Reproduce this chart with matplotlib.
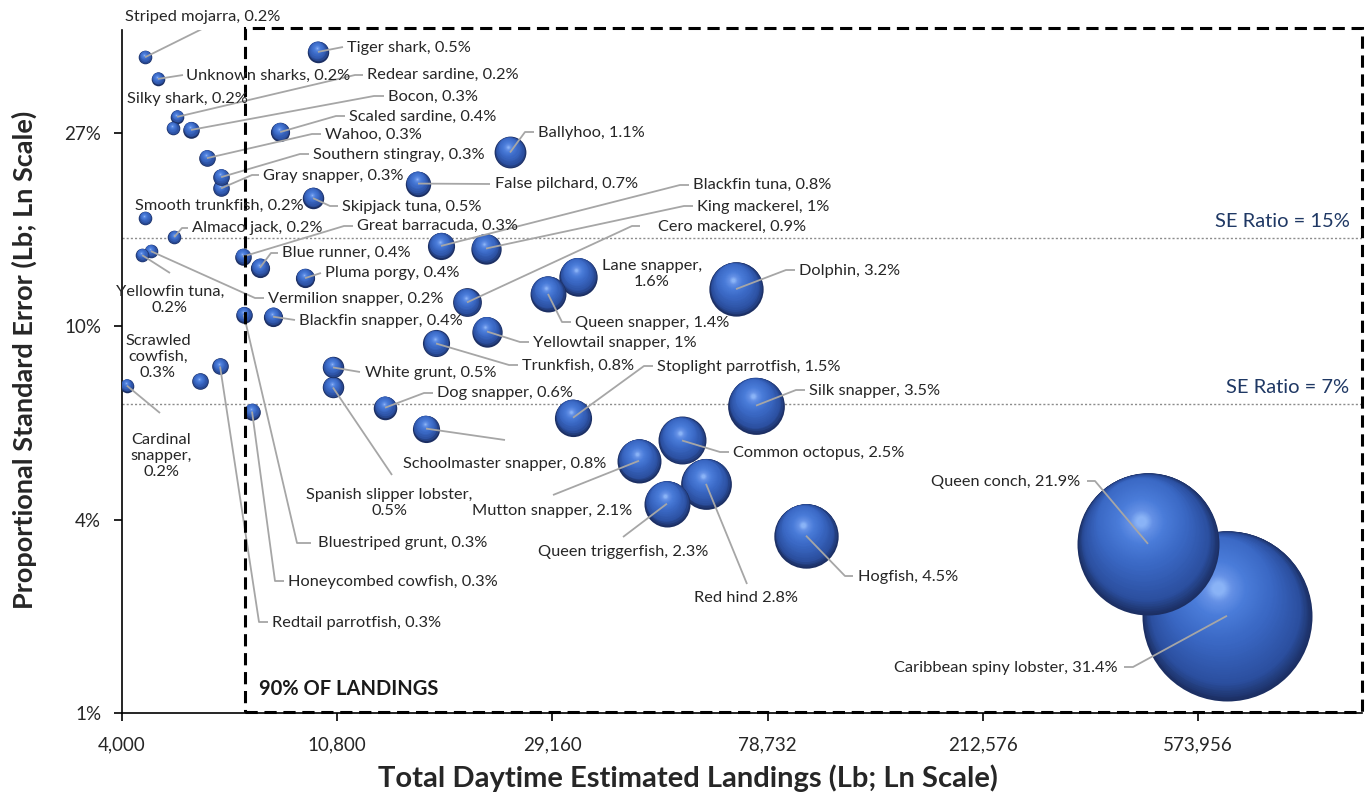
import numpy as np
import matplotlib
matplotlib.use("Agg")
import matplotlib.pyplot as plt
from matplotlib.transforms import ScaledTranslation
from matplotlib.colors import LinearSegmentedColormap
from matplotlib.patches import Rectangle

# ---------------------------------------------------------------- data
species = [
    "Striped mojarra", "Unknown sharks", "Tiger shark", "Silky shark", "Redear sardine",
    "Bocon", "Scaled sardine", "Wahoo", "Southern stingray", "Gray snapper",
    "Ballyhoo", "False pilchard", "Skipjack tuna", "Smooth trunkfish", "Almaco jack",
    "Great barracuda", "Blackfin tuna", "King mackerel", "Blue runner", "Yellowfin tuna",
    "Vermilion snapper", "Pluma porgy", "Cero mackerel", "Lane snapper", "Queen snapper",
    "Dolphin", "Blackfin snapper", "Bluestriped grunt", "Yellowtail snapper", "Trunkfish",
    "White grunt", "Spanish slipper lobster", "Redtail parrotfish", "Scrawled cowfish",
    "Cardinal snapper", "Honeycombed cowfish", "Dog snapper", "Stoplight parrotfish",
    "Silk snapper", "Schoolmaster snapper", "Common octopus", "Mutton snapper", "Red hind",
    "Queen triggerfish", "Hogfish", "Queen conch", "Caribbean spiny lobster",
]

# share of total landings (%)
share = [
    0.2, 0.2, 0.5, 0.2, 0.2,
    0.3, 0.4, 0.3, 0.3, 0.3,
    1.1, 0.7, 0.5, 0.2, 0.2,
    0.3, 0.8, 1.0, 0.4, 0.2,
    0.2, 0.4, 0.9, 1.6, 1.4,
    3.2, 0.4, 0.3, 1.0, 0.8,
    0.5, 0.5, 0.3, 0.3,
    0.2, 0.3, 0.6, 1.5,
    3.5, 0.8, 2.5, 2.1, 2.8,
    2.3, 4.5, 21.9, 31.4,
]

# total daytime estimated landings (lb)
landings = [
    4450, 4720, 9880, 5060, 5160,
    5500, 8300, 5920, 6320, 6320,
    23980, 15680, 9660, 4450, 5090,
    6990, 17440, 21460, 7560, 4390,
    4570, 9310, 19660, 32820, 28570,
    68060, 8030, 7020, 21560, 17040,
    10590, 10590, 6290, 5730,
    4090, 7290, 13470, 32070,
    74630, 16270, 53030, 43490, 59250,
    49480, 94000, 455700, 656200,
]

# proportional standard error
pse = [
    0.398, 0.356, 0.409, 0.276, 0.293,
    0.274, 0.271, 0.237, 0.215, 0.203,
    0.244, 0.208, 0.193, 0.174, 0.158,
    0.143, 0.151, 0.149, 0.135, 0.144,
    0.147, 0.128, 0.113, 0.129, 0.118,
    0.121, 0.105, 0.106, 0.0973, 0.0915,
    0.0809, 0.0730, 0.0813, 0.0753,
    0.0737, 0.0645, 0.0658, 0.0625,
    0.0665, 0.0591, 0.0556, 0.0501, 0.0445,
    0.0402, 0.0341, 0.0327, 0.0226,
]

x_ticks = [4000, 10800, 29160, 78732, 212576, 573956]
x_tick_labels = ["4,000", "10,800", "29,160", "78,732", "212,576", "573,956"]
y_ticks = [0.1 / 2.7 ** 2, 0.1 / 2.7, 0.1, 0.27]
y_tick_labels = ["1%", "4%", "10%", "27%"]

se_ratio_levels = [0.157, 0.067]
se_ratio_labels = ["SE Ratio = 15%", "SE Ratio = 7%"]
landings_90pct = 7057

# ------------------------------------------------------------- layout
W, H, DPI = 1366, 794, 100
FONT = "Lato"
LABEL_COLOR = "#262626"
LEADER_COLOR = "#a6a6a6"

# label placement (pixel position, alignment, text template, leader start points)
label_layout = {
    "Striped mojarra":         (125, 17, "left", "{n}, {v}", [(210, 25)]),
    "Unknown sharks":          (186, 76, "left", "{n}, {v}", [(183, 75)]),
    "Tiger shark":             (347, 48, "left", "{n}, {v}", [(343, 47)]),
    "Silky shark":             (127, 99, "left", "{n}, {v}", []),
    "Redear sardine":          (367, 75, "left", "{n}, {v}", [(363, 75), (355, 75)]),
    "Bocon":                   (388, 97, "left", "{n}, {v}", [(384, 96), (374, 96)]),
    "Scaled sardine":          (349, 117, "left", "{n}, {v}", [(345, 116), (336, 116)]),
    "Wahoo":                   (325, 135, "left", "{n}, {v}", [(321, 134), (312, 134)]),
    "Southern stingray":       (313, 155, "left", "{n}, {v}", [(309, 154), (300, 154)]),
    "Gray snapper":            (263, 176, "left", "{n}, {v}", [(259, 175), (252, 175)]),
    "Ballyhoo":                (538, 133, "left", "{n}, {v}", [(534, 132), (525, 132)]),
    "False pilchard":          (495, 184, "left", "{n}, {v}", [(490, 184)]),
    "Skipjack tuna":           (342, 207, "left", "{n}, {v}", [(338, 206), (330, 206)]),
    "Smooth trunkfish":        (135, 206, "left", "{n}, {v}", []),
    "Almaco jack":             (192, 228, "left", "{n}, {v}", [(188, 228), (182, 228)]),
    "Great barracuda":         (357, 226, "left", "{n}, {v}", [(353, 226), (344, 226)]),
    "Blackfin tuna":           (693, 185, "left", "{n}, {v}", [(689, 185), (680, 185)]),
    "King mackerel":           (697, 207, "left", "{n}, {v}", [(693, 206), (684, 206)]),
    "Cero mackerel":           (658, 227, "left", "{n}, {v}", [(640, 226), (632, 226)]),
    "Blue runner":             (282, 253, "left", "{n}, {v}", [(278, 253), (271, 253)]),
    "Pluma porgy":             (325, 273, "left", "{n}, {v}", [(321, 273)]),
    "Yellowfin tuna":          (170, 300, "center", "{n},\n{v}", [(170, 273)]),
    "Vermilion snapper":       (268, 299, "left", "{n}, {v}", [(264, 298), (255, 298)]),
    "Lane snapper":            (652, 274, "center", "{n},\n{v}", []),
    "Dolphin":                 (799, 271, "left", "{n}, {v}", [(795, 270), (786, 270)]),
    "Queen snapper":           (575, 323, "left", "{n}, {v}", [(571, 322), (562, 322)]),
    "Blackfin snapper":        (299, 321, "left", "{n}, {v}", [(295, 320)]),
    "Yellowtail snapper":      (533, 343, "left", "{n}, {v}", [(529, 342), (520, 342)]),
    "Trunkfish":               (522, 366, "left", "{n}, {v}", [(518, 365), (509, 365)]),
    "White grunt":             (365, 373, "left", "{n}, {v}", [(360, 372)]),
    "Stoplight parrotfish":    (657, 367, "left", "{n}, {v}", [(653, 366), (644, 366)]),
    "Dog snapper":             (437, 393, "left", "{n}, {v}", [(433, 393), (424, 393)]),
    "Silk snapper":            (809, 391, "left", "{n}, {v}", [(805, 390), (796, 390)]),
    "Scrawled cowfish":        (158, 357, "center", "Scrawled\ncowfish,\n{v}", []),
    "Cardinal snapper":        (161, 456, "center", "Cardinal\nsnapper,\n{v}", [(160, 413)]),
    "Schoolmaster snapper":    (403, 464, "left", "{n}, {v}", [(505, 440)]),
    "Common octopus":          (733, 453, "left", "{n}, {v}", [(729, 452), (720, 452)]),
    "Spanish slipper lobster": (389, 503, "center", "{n},\n{v}", [(392, 475)]),
    "Mutton snapper":          (472, 511, "left", "{n}, {v}", [(553, 495)]),
    "Queen triggerfish":       (538, 552, "left", "{n}, {v}", [(623, 537)]),
    "Red hind":                (694, 598, "left", "{n} {v}", [(747, 584)]),
    "Bluestriped grunt":       (318, 543, "left", "{n}, {v}", [(311, 543), (297, 543)]),
    "Honeycombed cowfish":     (288, 582, "left", "{n}, {v}", [(284, 581), (275, 581)]),
    "Redtail parrotfish":      (272, 623, "left", "{n}, {v}", [(268, 622), (259, 622)]),
    "Hogfish":                 (858, 577, "left", "{n}, {v}", [(853, 576), (845, 576)]),
    "Queen conch":             (1080, 482, "right", "{n}, {v}", [(1087, 481), (1095, 481)]),
    "Caribbean spiny lobster": (1118, 668, "right", "{n}, {v}", [(1124, 667), (1133, 667)]),
}

# ------------------------------------------------------------- figure
fig = plt.figure(figsize=(W / DPI, H / DPI), dpi=DPI)
ax_left, ax_right, ax_top, ax_bottom = 122, 1362, 30, 713
ax = fig.add_axes([ax_left / W, 1 - ax_bottom / H,
                   (ax_right - ax_left) / W, (ax_bottom - ax_top) / H])
ax.set_xscale("log")
ax.set_yscale("log")
ax.set_xlim(4000, 1.2236e6)
ax.set_ylim(y_ticks[0], 0.4577)

for side in ("top", "right"):
    ax.spines[side].set_visible(False)
for side in ("left", "bottom"):
    ax.spines[side].set_color("black")
    ax.spines[side].set_linewidth(1.2)

ax.set_xticks(x_ticks)
ax.set_xticklabels(x_tick_labels)
ax.set_yticks(y_ticks)
ax.set_yticklabels(y_tick_labels)
ax.minorticks_off()
ax.tick_params(axis="both", direction="out", length=6, width=1.2, color="black",
               labelsize=13.5, labelcolor="#262626")
ax.tick_params(axis="x", pad=11)
ax.tick_params(axis="y", pad=9)
for lab in ax.get_xticklabels() + ax.get_yticklabels():
    lab.set_family(FONT)

ax.set_xlabel("Total Daytime Estimated Landings (Lb; Ln Scale)", fontsize=21,
              fontweight="bold", family=FONT, color="#262626", labelpad=7)
ax.xaxis.set_label_coords((688 - ax_left) / (ax_right - ax_left), -0.075)
ax.set_ylabel("Proportional Standard Error (Lb; Ln Scale)", fontsize=19.5,
              fontweight="bold", family=FONT, color="#262626")
ax.yaxis.set_label_coords(-(ax_left - 37) / (ax_right - ax_left),
                          (ax_bottom - 360) / (ax_bottom - ax_top))

# SE ratio reference lines
for lvl, txt in zip(se_ratio_levels, se_ratio_labels):
    ax.axhline(lvl, color="#8c8c8c", lw=1.0, ls=(0, (1.5, 1.5)), zorder=1)
    ax.annotate(txt, xy=(1.0, lvl), xycoords=("axes fraction", "data"),
                xytext=(-9, 6), textcoords="offset points", ha="right", va="bottom",
                fontsize=14.5, color="#1f3864", family=FONT)

# dashed box around the species making up 90% of landings
ylo, yhi = ax.get_ylim()
xlo, xhi = ax.get_xlim()
box = Rectangle((landings_90pct, ylo * 1.005), xhi * 0.999 - landings_90pct, yhi * 1.01 - ylo * 1.005,
                fill=False, edgecolor="black", lw=2.2, ls=(0, (4, 2.2)), clip_on=False, zorder=6)
ax.add_patch(box)
ax.annotate("90% OF LANDINGS", xy=(landings_90pct, ylo), xycoords="data",
            xytext=(10, 10), textcoords="offset points", ha="left", va="bottom",
            fontsize=14.5, fontweight="bold", family=FONT, color="#1a1a1a")

# shaded spherical bubbles (area proportional to share)
sphere = LinearSegmentedColormap.from_list(
    "sphere", [(0.0, "#1c2f63"), (0.12, "#2b4f9f"), (0.4, "#3a68c4"),
               (0.72, "#4a7cd9"), (0.9, "#6591e6"), (1.0, "#8ab3f6")])
light_dir = np.array([-0.3, 0.95])
light_dir /= np.hypot(*light_dir)
px_per_sqrt_pct = 85.0 / np.sqrt(31.4)
order = np.argsort(share, kind="stable")[::-1]
for i in order:
    r = px_per_sqrt_pct * np.sqrt(share[i])
    n = int(np.clip(r * 1.1, 12, 90))
    for k in range(n):
        t = k / (n - 1)
        rr = r * (1 - 0.93 * t)
        shift = min(0.85 * (r - rr), 0.34 * r)
        dx, dy = light_dir * shift
        tr = ax.transData + ScaledTranslation(dx / DPI, dy / DPI, fig.dpi_scale_trans)
        ax.scatter([landings[i]], [pse[i]], s=(2 * rr * 72 / DPI) ** 2,
                   color=sphere(t), linewidths=0, transform=tr, zorder=3)

# data labels with leader lines
inv = ax.transData.inverted()
for i, name in enumerate(species):
    tx, ty, ha, fmt, leader = label_layout[name]
    text = fmt.format(n=name, v=f"{share[i]:g}%")
    fig.text(tx / W, 1 - ty / H, text, ha=ha, va="center", ma="center",
             fontsize=11.8, family=FONT, color=LABEL_COLOR, linespacing=1.15, zorder=7)
    if leader:
        pts = [inv.transform((px, H - py)) for px, py in leader]
        pts.append((landings[i], pse[i]))
        pts = np.array(pts)
        ax.plot(pts[:, 0], pts[:, 1], color=LEADER_COLOR, lw=1.3, zorder=5,
                solid_capstyle="butt")

fig.savefig("out.png", dpi=DPI)
